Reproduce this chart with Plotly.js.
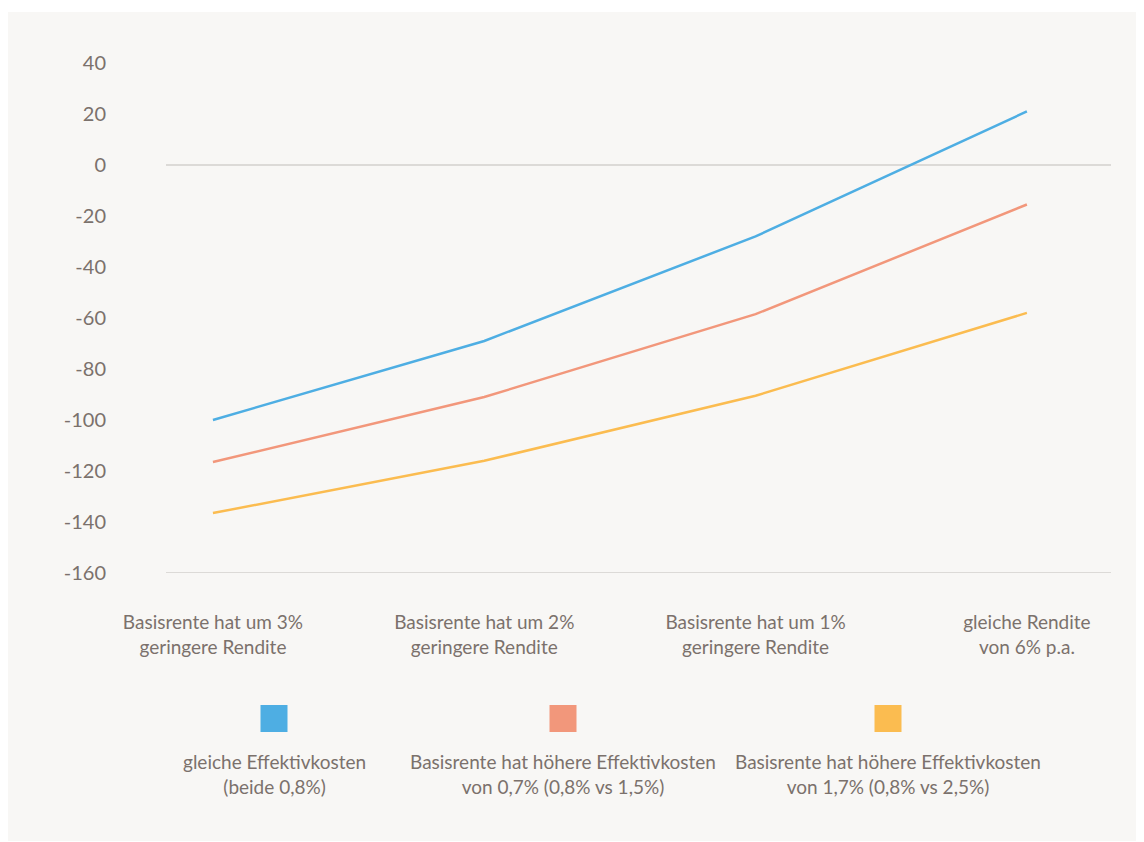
<!DOCTYPE html>
<html>
<head>
<meta charset="utf-8">
<script src="https://cdn.plot.ly/plotly-3.0.1.min.js"></script>
<style>
  html, body { margin: 0; padding: 0; background: #ffffff; }
  #chart { width: 1144px; height: 842px; }
</style>
</head>
<body>
<div id="chart"></div>
<script>
// ---- data ----
const categories = [
  "Basisrente hat um 3%<br>geringere Rendite",
  "Basisrente hat um 2%<br>geringere Rendite",
  "Basisrente hat um 1%<br>geringere Rendite",
  "gleiche Rendite<br>von 6% p.a."
];
const seriesNames = [
  "gleiche Effektivkosten<br>(beide 0,8%)",
  "Basisrente hat höhere Effektivkosten<br>von 0,7% (0,8% vs 1,5%)",
  "Basisrente hat höhere Effektivkosten<br>von 1,7% (0,8% vs 2,5%)"
];
const gleicheKosten = [-100, -69, -28, 21];
const hoehereKosten07 = [-116.5, -91, -58.5, -15.5];
const hoehereKosten17 = [-136.5, -116, -90.5, -58];
const yTickValues = [40, 20, 0, -20, -40, -60, -80, -100, -120, -140, -160];

// ---- styling ----
const colors = ["#4eaee3", "#f2977b", "#fbbc50"];
const textColor = "#7b716c";
const fontFamily = "Lato, 'Open Sans', sans-serif";
const W = 1144, H = 842;

const seriesValues = [gleicheKosten, hoehereKosten07, hoehereKosten17];
const xIdx = categories.map((c, i) => i);

const traces = seriesValues.map((vals, k) => ({
  type: "scatter",
  mode: "lines",
  x: xIdx,
  y: vals,
  name: seriesNames[k],
  line: { color: colors[k], width: 2.5 },
  hoverinfo: "skip",
  showlegend: false
}));

// legend built from series names/colors
const legendCenters = [274 / W, 563 / W, 888 / W];
const swatch = 27;
const shapes = [
  { type: "rect", xref: "paper", yref: "paper", layer: "below",
    x0: 8 / W, x1: 1136 / W, y0: (H - 841) / H, y1: (H - 12) / H,
    fillcolor: "#f8f7f5", line: { width: 0 } }
];
const annotations = [];
seriesNames.forEach((n, k) => {
  const cx = legendCenters[k];
  shapes.push({
    type: "rect", xref: "paper", yref: "paper",
    x0: cx - (swatch / 2) / W, x1: cx + (swatch / 2) / W,
    y0: (H - 732) / H, y1: (H - 705) / H,
    fillcolor: colors[k], line: { width: 0 }
  });
  annotations.push({
    xref: "paper", yref: "paper", x: cx, y: (H - 774) / H,
    xanchor: "center", yanchor: "middle", align: "center",
    showarrow: false, text: n,
    font: { family: fontFamily, size: 19, color: textColor }
  });
});

const layout = {
  width: W, height: H,
  margin: { l: 0, r: 0, t: 0, b: 0 },
  paper_bgcolor: "#ffffff",
  plot_bgcolor: "rgba(0,0,0,0)",
  showlegend: false,
  font: { family: fontFamily, color: textColor },
  xaxis: {
    domain: [166 / W, 1111 / W],
    range: [-0.173, 3.31],
    tickmode: "array",
    tickvals: xIdx,
    ticktext: categories,
    showgrid: false,
    zeroline: false,
    showline: false,
    ticks: "outside",
    ticklen: 32,
    tickcolor: "rgba(0,0,0,0)",
    tickfont: { family: fontFamily, size: 19, color: textColor }
  },
  yaxis: {
    domain: [(H - 573) / H, (H - 63) / H],
    range: [-160, 40],
    tickmode: "array",
    tickvals: yTickValues,
    ticktext: yTickValues.map(String),
    showgrid: false,
    zeroline: false,
    showline: false,
    ticks: "outside",
    ticklen: 55,
    tickcolor: "rgba(0,0,0,0)",
    tickfont: { family: fontFamily, size: 20, color: textColor }
  },
  shapes: shapes.concat([
    { type: "line", xref: "x domain", yref: "y", x0: 0, x1: 1, y0: 0, y1: 0,
      layer: "below", line: { color: "#dcdad7", width: 2 } },
    { type: "line", xref: "x domain", yref: "y", x0: 0, x1: 1, y0: -160, y1: -160,
      layer: "below", line: { color: "#dcdad7", width: 2 } }
  ]),
  annotations: annotations
};

Plotly.newPlot("chart", traces, layout, { displayModeBar: false, staticPlot: true });
</script>
</body>
</html>
